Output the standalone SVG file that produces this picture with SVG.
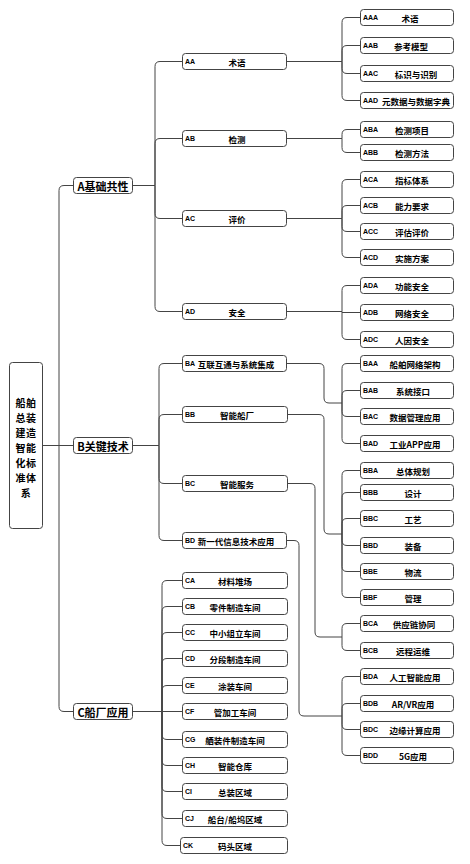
<svg xmlns="http://www.w3.org/2000/svg" width="470" height="864" viewBox="0 0 470 864">
<style>
.bx{fill:#fff;stroke:#444;stroke-width:1}
.ln{fill:none;stroke:#444;stroke-width:1}
.t{font-family:"Noto Sans CJK SC","Noto Sans",sans-serif;font-weight:bold;fill:#000;dominant-baseline:central}
.r{font-size:10px;text-anchor:middle;letter-spacing:0.5px}
.l1{font-size:11px;text-anchor:middle}
.nm{font-size:8.5px;text-anchor:middle}
.cd{font-family:"Liberation Sans",Arial,sans-serif;font-weight:bold;font-size:7px;fill:#000;dominant-baseline:central}
</style>
<rect width="470" height="864" fill="#fff"/>
<g id="connectors">
<path class="ln" d="M43,445.5 H73"/>
<path class="ln" d="M59,445.5 V190.5 Q59,185.5 64,185.5 H73"/>
<path class="ln" d="M59,445.5 V706.5 Q59,711.5 64,711.5 H73"/>
<path class="ln" d="M133,185.5 H155"/>
<path class="ln" d="M155,185.5 V66.5 Q155,61.5 160,61.5 H182"/>
<path class="ln" d="M155,185.5 V143.5 Q155,138.5 160,138.5 H182"/>
<path class="ln" d="M155,185.5 V213.5 Q155,218.5 160,218.5 H182"/>
<path class="ln" d="M155,185.5 V306.5 Q155,311.5 160,311.5 H182"/>
<path class="ln" d="M287,61.5 H342"/>
<path class="ln" d="M342,61.5 V22.5 Q342,17.5 347,17.5 H360"/>
<path class="ln" d="M342,61.5 V50.5 Q342,45.5 347,45.5 H360"/>
<path class="ln" d="M342,61.5 V68.5 Q342,73.5 347,73.5 H360"/>
<path class="ln" d="M342,61.5 V95.5 Q342,100.5 347,100.5 H360"/>
<path class="ln" d="M287,138.5 H342"/>
<path class="ln" d="M342,138.5 V134.5 Q342,129.5 347,129.5 H360"/>
<path class="ln" d="M342,138.5 V147.5 Q342,152.5 347,152.5 H360"/>
<path class="ln" d="M287,218.5 H342"/>
<path class="ln" d="M342,218.5 V184.5 Q342,179.5 347,179.5 H360"/>
<path class="ln" d="M342,218.5 V210.5 Q342,205.5 347,205.5 H360"/>
<path class="ln" d="M342,218.5 V226.5 Q342,231.5 347,231.5 H360"/>
<path class="ln" d="M342,218.5 V252.5 Q342,257.5 347,257.5 H360"/>
<path class="ln" d="M287,311.5 H342"/>
<path class="ln" d="M342,311.5 V290.5 Q342,285.5 347,285.5 H360"/>
<path class="ln" d="M342,312.5 H360"/>
<path class="ln" d="M342,311.5 V334.5 Q342,339.5 347,339.5 H360"/>
<path class="ln" d="M133,445.5 H159"/>
<path class="ln" d="M159,445.5 V368.5 Q159,363.5 164,363.5 H182"/>
<path class="ln" d="M159,445.5 V419.5 Q159,414.5 164,414.5 H182"/>
<path class="ln" d="M159,445.5 V478.5 Q159,483.5 164,483.5 H182"/>
<path class="ln" d="M159,445.5 V535.5 Q159,540.5 164,540.5 H182"/>
<path class="ln" d="M287,363.5 H319 Q324,363.5 324,368.5 V398 Q324,403 329,403 H342"/>
<path class="ln" d="M342,403 V368.5 Q342,363.5 347,363.5 H360"/>
<path class="ln" d="M342,403 V395.5 Q342,390.5 347,390.5 H360"/>
<path class="ln" d="M342,403 V411.5 Q342,416.5 347,416.5 H360"/>
<path class="ln" d="M342,403 V438.5 Q342,443.5 347,443.5 H360"/>
<path class="ln" d="M288,414.5 H319 Q324,414.5 324,419.5 V529 Q324,534 329,534 H342"/>
<path class="ln" d="M342,534 V475.5 Q342,470.5 347,470.5 H360"/>
<path class="ln" d="M342,534 V497.5 Q342,492.5 347,492.5 H360"/>
<path class="ln" d="M342,534 V523.5 Q342,518.5 347,518.5 H360"/>
<path class="ln" d="M342,534 V540.5 Q342,545.5 347,545.5 H360"/>
<path class="ln" d="M342,534 V566.5 Q342,571.5 347,571.5 H360"/>
<path class="ln" d="M342,534 V592.5 Q342,597.5 347,597.5 H360"/>
<path class="ln" d="M288,483.5 H310 Q315,483.5 315,488.5 V632 Q315,637 320,637 H342"/>
<path class="ln" d="M342,637 V628.5 Q342,623.5 347,623.5 H360"/>
<path class="ln" d="M342,637 V645.5 Q342,650.5 347,650.5 H360"/>
<path class="ln" d="M287,540.5 H294 Q299,540.5 299,545.5 V711 Q299,716 304,716 H342"/>
<path class="ln" d="M342,716 V681.5 Q342,676.5 347,676.5 H360"/>
<path class="ln" d="M342,716 V708.5 Q342,703.5 347,703.5 H360"/>
<path class="ln" d="M342,716 V724.5 Q342,729.5 347,729.5 H360"/>
<path class="ln" d="M342,716 V750.5 Q342,755.5 347,755.5 H360"/>
<path class="ln" d="M133,711.5 H162"/>
<path class="ln" d="M162,711.5 V585.5 Q162,580.5 167,580.5 H182"/>
<path class="ln" d="M162,711.5 V611.5 Q162,606.5 167,606.5 H182"/>
<path class="ln" d="M162,711.5 V637.5 Q162,632.5 167,632.5 H182"/>
<path class="ln" d="M162,711.5 V663.5 Q162,658.5 167,658.5 H182"/>
<path class="ln" d="M162,711.5 V690.5 Q162,685.5 167,685.5 H182"/>
<path class="ln" d="M162,711.5 H182"/>
<path class="ln" d="M162,711.5 V734.5 Q162,739.5 167,739.5 H182"/>
<path class="ln" d="M162,711.5 V760.5 Q162,765.5 167,765.5 H182"/>
<path class="ln" d="M162,711.5 V786.5 Q162,791.5 167,791.5 H182"/>
<path class="ln" d="M162,711.5 V813.5 Q162,818.5 167,818.5 H182"/>
<path class="ln" d="M162,711.5 V840.5 Q162,845.5 167,845.5 H180"/>
</g>
<g id="root"><rect class="bx" x="9.5" y="362.5" width="33" height="166" rx="3"/>
<text class="t r" x="26" y="402"><tspan x="26" y="402">船舶</tspan><tspan x="26" y="417">总装</tspan><tspan x="26" y="432">建造</tspan><tspan x="26" y="447">智能</tspan><tspan x="26" y="462">化标</tspan><tspan x="26" y="477">准体</tspan><tspan x="26" y="492">系</tspan></text></g>
<g id="A"><rect class="bx" x="73.5" y="177.5" width="59" height="16" rx="3"/><text class="t l1" x="103" y="185.5">A基础共性</text></g>
<g id="B"><rect class="bx" x="73.5" y="437.5" width="59" height="16" rx="3"/><text class="t l1" x="103" y="445.5">B关键技术</text></g>
<g id="C"><rect class="bx" x="73.5" y="703.5" width="59" height="16" rx="3"/><text class="t l1" x="103" y="711.5">C船厂应用</text></g>
<g id="AA"><rect class="bx" x="182.5" y="53.5" width="104" height="16" rx="3"/><text class="cd" x="185" y="61.5">AA</text><text class="t nm" x="237" y="61.5">术语</text></g>
<g id="AB"><rect class="bx" x="182.5" y="130.5" width="104" height="16" rx="3"/><text class="cd" x="185" y="138.5">AB</text><text class="t nm" x="237" y="138.5">检测</text></g>
<g id="AC"><rect class="bx" x="182.5" y="210.5" width="104" height="16" rx="3"/><text class="cd" x="185" y="218.5">AC</text><text class="t nm" x="237" y="218.5">评价</text></g>
<g id="AD"><rect class="bx" x="182.5" y="303.5" width="104" height="16" rx="3"/><text class="cd" x="185" y="311.5">AD</text><text class="t nm" x="237" y="311.5">安全</text></g>
<g id="AAA"><rect class="bx" x="360.5" y="9.5" width="93" height="16" rx="3"/><text class="cd" x="363" y="17.5">AAA</text><text class="t nm" x="410" y="17.5">术语</text></g>
<g id="AAB"><rect class="bx" x="360.5" y="37.5" width="93" height="16" rx="3"/><text class="cd" x="363" y="45.5">AAB</text><text class="t nm" x="411" y="45.5">参考模型</text></g>
<g id="AAC"><rect class="bx" x="360.5" y="65.5" width="93" height="16" rx="3"/><text class="cd" x="363" y="73.5">AAC</text><text class="t nm" x="416" y="73.5">标识与识别</text></g>
<g id="AAD"><rect class="bx" x="360.5" y="92.5" width="93" height="16" rx="3"/><text class="cd" x="363" y="100.5">AAD</text><text class="t nm" x="416" y="100.5">元数据与数据字典</text></g>
<g id="ABA"><rect class="bx" x="360.5" y="121.5" width="93" height="16" rx="3"/><text class="cd" x="363" y="129.5">ABA</text><text class="t nm" x="412" y="129.5">检测项目</text></g>
<g id="ABB"><rect class="bx" x="360.5" y="144.5" width="93" height="16" rx="3"/><text class="cd" x="363" y="152.5">ABB</text><text class="t nm" x="412" y="152.5">检测方法</text></g>
<g id="ACA"><rect class="bx" x="360.5" y="171.5" width="93" height="16" rx="3"/><text class="cd" x="363" y="179.5">ACA</text><text class="t nm" x="412" y="179.5">指标体系</text></g>
<g id="ACB"><rect class="bx" x="360.5" y="197.5" width="93" height="16" rx="3"/><text class="cd" x="363" y="205.5">ACB</text><text class="t nm" x="412" y="205.5">能力要求</text></g>
<g id="ACC"><rect class="bx" x="360.5" y="223.5" width="93" height="16" rx="3"/><text class="cd" x="363" y="231.5">ACC</text><text class="t nm" x="412" y="231.5">评估评价</text></g>
<g id="ACD"><rect class="bx" x="360.5" y="249.5" width="93" height="16" rx="3"/><text class="cd" x="363" y="257.5">ACD</text><text class="t nm" x="412" y="257.5">实施方案</text></g>
<g id="ADA"><rect class="bx" x="360.5" y="277.5" width="93" height="16" rx="3"/><text class="cd" x="363" y="285.5">ADA</text><text class="t nm" x="412" y="285.5">功能安全</text></g>
<g id="ADB"><rect class="bx" x="360.5" y="304.5" width="93" height="16" rx="3"/><text class="cd" x="363" y="312.5">ADB</text><text class="t nm" x="412" y="312.5">网络安全</text></g>
<g id="ADC"><rect class="bx" x="360.5" y="331.5" width="93" height="16" rx="3"/><text class="cd" x="363" y="339.5">ADC</text><text class="t nm" x="412" y="339.5">人因安全</text></g>
<g id="BA"><rect class="bx" x="182.5" y="355.5" width="104" height="16" rx="3"/><text class="cd" x="185" y="363.5">BA</text><text class="t nm" x="236" y="363.5">互联互通与系统集成</text></g>
<g id="BB"><rect class="bx" x="182.5" y="406.5" width="105" height="16" rx="3"/><text class="cd" x="185" y="414.5">BB</text><text class="t nm" x="237" y="414.5">智能船厂</text></g>
<g id="BC"><rect class="bx" x="182.5" y="475.5" width="105" height="16" rx="3"/><text class="cd" x="185" y="483.5">BC</text><text class="t nm" x="237" y="483.5">智能服务</text></g>
<g id="BD"><rect class="bx" x="182.5" y="532.5" width="104" height="16" rx="3"/><text class="cd" x="185" y="540.5">BD</text><text class="t nm" x="236" y="540.5">新一代信息技术应用</text></g>
<g id="BAA"><rect class="bx" x="360.5" y="355.5" width="93" height="16" rx="3"/><text class="cd" x="363" y="363.5">BAA</text><text class="t nm" x="415" y="363.5">船舶网络架构</text></g>
<g id="BAB"><rect class="bx" x="360.5" y="382.5" width="93" height="16" rx="3"/><text class="cd" x="363" y="390.5">BAB</text><text class="t nm" x="413" y="390.5">系统接口</text></g>
<g id="BAC"><rect class="bx" x="360.5" y="408.5" width="93" height="16" rx="3"/><text class="cd" x="363" y="416.5">BAC</text><text class="t nm" x="415" y="416.5">数据管理应用</text></g>
<g id="BAD"><rect class="bx" x="360.5" y="435.5" width="93" height="16" rx="3"/><text class="cd" x="363" y="443.5">BAD</text><text class="t nm" x="415" y="443.5">工业APP应用</text></g>
<g id="BBA"><rect class="bx" x="360.5" y="462.5" width="93" height="16" rx="3"/><text class="cd" x="363" y="470.5">BBA</text><text class="t nm" x="413" y="470.5">总体规划</text></g>
<g id="BBB"><rect class="bx" x="360.5" y="484.5" width="93" height="16" rx="3"/><text class="cd" x="363" y="492.5">BBB</text><text class="t nm" x="413" y="492.5">设计</text></g>
<g id="BBC"><rect class="bx" x="360.5" y="510.5" width="93" height="16" rx="3"/><text class="cd" x="363" y="518.5">BBC</text><text class="t nm" x="413" y="518.5">工艺</text></g>
<g id="BBD"><rect class="bx" x="360.5" y="537.5" width="93" height="16" rx="3"/><text class="cd" x="363" y="545.5">BBD</text><text class="t nm" x="413" y="545.5">装备</text></g>
<g id="BBE"><rect class="bx" x="360.5" y="563.5" width="93" height="16" rx="3"/><text class="cd" x="363" y="571.5">BBE</text><text class="t nm" x="413" y="571.5">物流</text></g>
<g id="BBF"><rect class="bx" x="360.5" y="589.5" width="93" height="16" rx="3"/><text class="cd" x="363" y="597.5">BBF</text><text class="t nm" x="413" y="597.5">管理</text></g>
<g id="BCA"><rect class="bx" x="360.5" y="615.5" width="93" height="16" rx="3"/><text class="cd" x="363" y="623.5">BCA</text><text class="t nm" x="414" y="623.5">供应链协同</text></g>
<g id="BCB"><rect class="bx" x="360.5" y="642.5" width="93" height="16" rx="3"/><text class="cd" x="363" y="650.5">BCB</text><text class="t nm" x="413" y="650.5">远程运维</text></g>
<g id="BDA"><rect class="bx" x="360.5" y="668.5" width="93" height="16" rx="3"/><text class="cd" x="363" y="676.5">BDA</text><text class="t nm" x="415" y="676.5">人工智能应用</text></g>
<g id="BDB"><rect class="bx" x="360.5" y="695.5" width="93" height="16" rx="3"/><text class="cd" x="363" y="703.5">BDB</text><text class="t nm" x="413" y="703.5">AR/VR应用</text></g>
<g id="BDC"><rect class="bx" x="360.5" y="721.5" width="93" height="16" rx="3"/><text class="cd" x="363" y="729.5">BDC</text><text class="t nm" x="415" y="729.5">边缘计算应用</text></g>
<g id="BDD"><rect class="bx" x="360.5" y="747.5" width="93" height="16" rx="3"/><text class="cd" x="363" y="755.5">BDD</text><text class="t nm" x="413" y="755.5">5G应用</text></g>
<g id="CA"><rect class="bx" x="182.5" y="572.5" width="105" height="16" rx="3"/><text class="cd" x="185" y="580.5">CA</text><text class="t nm" x="235" y="580.5">材料堆场</text></g>
<g id="CB"><rect class="bx" x="182.5" y="598.5" width="105" height="16" rx="3"/><text class="cd" x="185" y="606.5">CB</text><text class="t nm" x="235" y="606.5">零件制造车间</text></g>
<g id="CC"><rect class="bx" x="182.5" y="624.5" width="105" height="16" rx="3"/><text class="cd" x="185" y="632.5">CC</text><text class="t nm" x="235" y="632.5">中小组立车间</text></g>
<g id="CD"><rect class="bx" x="182.5" y="650.5" width="105" height="16" rx="3"/><text class="cd" x="185" y="658.5">CD</text><text class="t nm" x="235" y="658.5">分段制造车间</text></g>
<g id="CE"><rect class="bx" x="182.5" y="677.5" width="105" height="16" rx="3"/><text class="cd" x="185" y="685.5">CE</text><text class="t nm" x="235" y="685.5">涂装车间</text></g>
<g id="CF"><rect class="bx" x="182.5" y="703.5" width="105" height="16" rx="3"/><text class="cd" x="185" y="711.5">CF</text><text class="t nm" x="235" y="711.5">管加工车间</text></g>
<g id="CG"><rect class="bx" x="182.5" y="731.5" width="105" height="16" rx="3"/><text class="cd" x="185" y="739.5">CG</text><text class="t nm" x="235" y="739.5">舾装件制造车间</text></g>
<g id="CH"><rect class="bx" x="182.5" y="757.5" width="105" height="16" rx="3"/><text class="cd" x="185" y="765.5">CH</text><text class="t nm" x="235" y="765.5">智能仓库</text></g>
<g id="CI"><rect class="bx" x="182.5" y="783.5" width="105" height="16" rx="3"/><text class="cd" x="185" y="791.5">CI</text><text class="t nm" x="235" y="791.5">总装区域</text></g>
<g id="CJ"><rect class="bx" x="182.5" y="810.5" width="105" height="16" rx="3"/><text class="cd" x="185" y="818.5">CJ</text><text class="t nm" x="235" y="818.5">船台/船坞区域</text></g>
<g id="CK"><rect class="bx" x="180.5" y="837.5" width="107" height="16" rx="3"/><text class="cd" x="183" y="845.5">CK</text><text class="t nm" x="235" y="845.5">码头区域</text></g>
</svg>
